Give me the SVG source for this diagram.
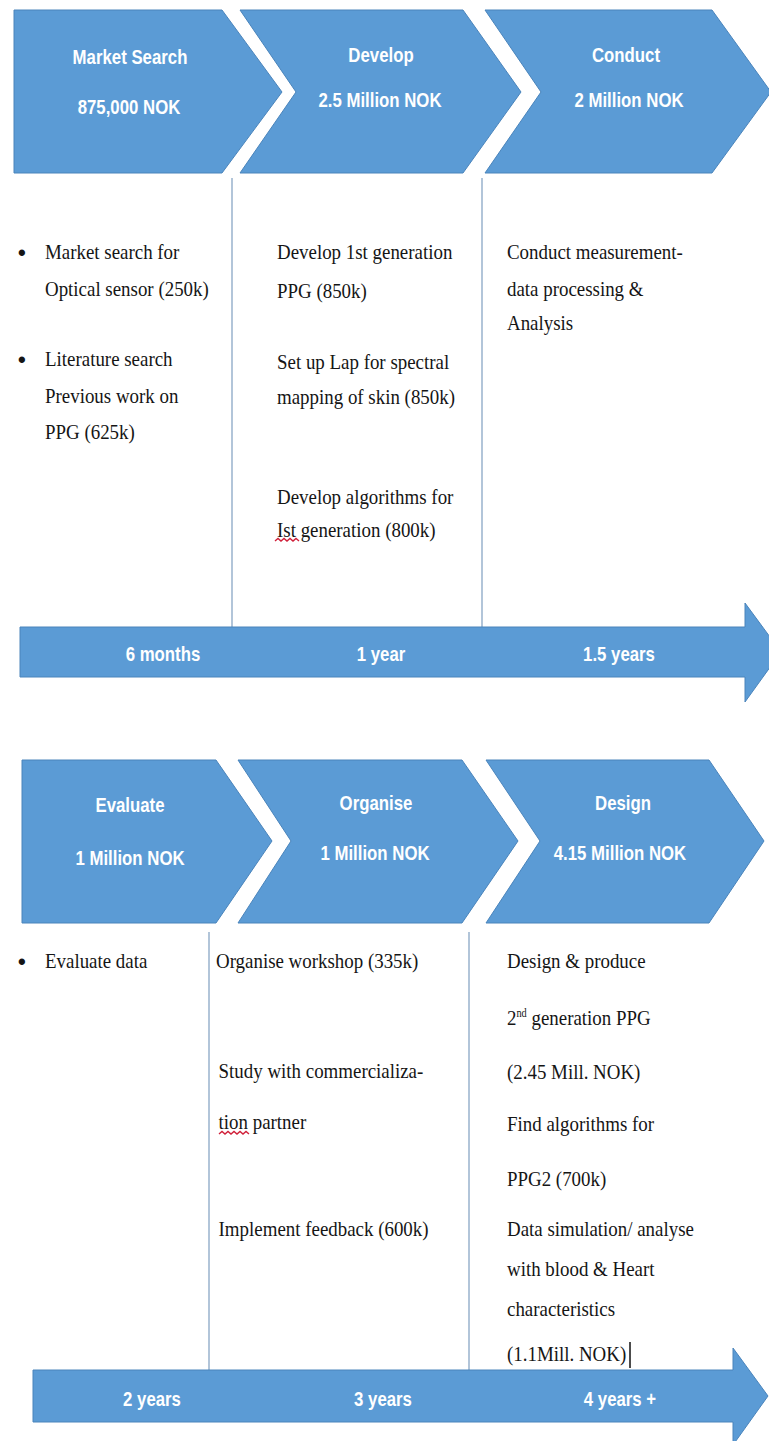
<svg xmlns="http://www.w3.org/2000/svg" width="769" height="1441" viewBox="0 0 769 1441">
<style>
.shape{fill:#5b9bd5;stroke:#4a84bb;stroke-width:1}
.hd{font-family:"Liberation Sans",Arial,sans-serif;font-weight:bold;font-size:20px;fill:#ffffff;text-anchor:middle}
.tx{font-family:"Liberation Serif","Times New Roman",serif;font-size:22px;fill:#151515}
.bul{font-family:"Liberation Sans",Arial,sans-serif;font-size:22px;font-weight:bold;fill:#151515}
.vl{stroke:#9fb7d0;stroke-width:1.6;fill:none}
.sq{stroke:#d0203a;stroke-width:1.4;fill:none}
</style>
<rect width="769" height="1441" fill="#ffffff"/>

<g id="connectors">
<line class="vl" x1="232" y1="178" x2="232" y2="627"/>
<line class="vl" x1="482" y1="178" x2="482" y2="627"/>
<line class="vl" x1="209" y1="932" x2="209" y2="1370"/>
<line class="vl" x1="469" y1="932" x2="469" y2="1370"/>
</g>

<g id="chevron-market">
<path class="shape" d="M14,10 L222,10 L282,92 L222,173 L14,173 Z"/>
<text class="hd" transform="translate(130,64) scale(0.84,1)">Market Search</text>
<text class="hd" transform="translate(129,114) scale(0.84,1)">875,000 NOK</text>
</g>
<g id="chevron-develop">
<path class="shape" d="M240,10 L463,10 L521,92 L463,173 L240,173 L296,92 Z"/>
<text class="hd" transform="translate(381,62) scale(0.84,1)">Develop</text>
<text class="hd" transform="translate(380,107) scale(0.84,1)">2.5 Million NOK</text>
</g>
<g id="chevron-conduct">
<path class="shape" d="M485,10 L712,10 L771,92 L712,173 L485,173 L541,92 Z"/>
<text class="hd" transform="translate(626,62) scale(0.84,1)">Conduct</text>
<text class="hd" transform="translate(629,107) scale(0.84,1)">2 Million NOK</text>
</g>

<g id="col-market">
<text class="bul" x="18" y="260">•</text>
<text class="bul" x="18" y="367">•</text>
<g transform="translate(45,0) scale(0.86,1)">
<text class="tx" y="259">Market search for</text>
<text class="tx" y="296">Optical sensor (250k)</text>
<text class="tx" y="366">Literature search</text>
<text class="tx" y="403">Previous work on</text>
<text class="tx" y="439">PPG (625k)</text>
</g>
</g>
<g id="col-develop">
<g transform="translate(277,0) scale(0.86,1)">
<text class="tx" y="259">Develop 1st generation</text>
<text class="tx" y="298">PPG (850k)</text>
<text class="tx" y="369">Set up Lap for spectral</text>
<text class="tx" y="404">mapping of skin (850k)</text>
<text class="tx" y="504">Develop algorithms for</text>
<text class="tx" y="537">Ist generation (800k)</text>
</g>
<path class="sq" d="M275,541 l3,-2.5 l3,2.5 l3,-2.5 l3,2.5 l3,-2.5 l3,2.5 l3,-2.5 l3,2.5"/>
</g>
<g id="col-conduct">
<g transform="translate(507,0) scale(0.86,1)">
<text class="tx" y="259">Conduct measurement-</text>
<text class="tx" y="296">data processing &amp;</text>
<text class="tx" y="330">Analysis</text>
</g>
</g>

<g id="timeline-1">
<path class="shape" d="M20,627 L745,627 L745,603 L781,652 L745,702 L745,677 L20,677 Z"/>
<text class="hd" transform="translate(163,661) scale(0.84,1)">6 months</text>
<text class="hd" transform="translate(381,661) scale(0.84,1)">1 year</text>
<text class="hd" transform="translate(619,661) scale(0.84,1)">1.5 years</text>
</g>

<g id="chevron-evaluate">
<path class="shape" d="M22,760 L216,760 L272,841 L216,923 L22,923 Z"/>
<text class="hd" transform="translate(130,812) scale(0.84,1)">Evaluate</text>
<text class="hd" transform="translate(130,865) scale(0.84,1)">1 Million NOK</text>
</g>
<g id="chevron-organise">
<path class="shape" d="M238,760 L462,760 L518,841 L462,923 L238,923 L291,841 Z"/>
<text class="hd" transform="translate(376,810) scale(0.84,1)">Organise</text>
<text class="hd" transform="translate(375,860) scale(0.84,1)">1 Million NOK</text>
</g>
<g id="chevron-design">
<path class="shape" d="M486,760 L709,760 L764,841 L709,923 L486,923 L540,841 Z"/>
<text class="hd" transform="translate(623,810) scale(0.84,1)">Design</text>
<text class="hd" transform="translate(620,860) scale(0.84,1)">4.15 Million NOK</text>
</g>

<g id="col-evaluate">
<text class="bul" x="18" y="969">•</text>
<g transform="translate(45,0) scale(0.86,1)">
<text class="tx" y="968">Evaluate data</text>
</g>
</g>
<g id="col-organise">
<g transform="translate(216,0) scale(0.86,1)">
<text class="tx" y="968">Organise workshop (335k)</text>
<text class="tx" x="3" y="1078">Study with commercializa-</text>
<text class="tx" x="3" y="1129">tion partner</text>
<text class="tx" x="3" y="1236">Implement feedback (600k)</text>
</g>
<path class="sq" d="M219,1134 l3,-2.5 l3,2.5 l3,-2.5 l3,2.5 l3,-2.5 l3,2.5 l3,-2.5 l3,2.5 l3,-2.5 l3,2.5"/>
</g>
<g id="col-design">
<g transform="translate(507,0) scale(0.86,1)">
<text class="tx" y="968">Design &amp; produce</text>
<text class="tx" y="1025">2<tspan font-size="12" dy="-8">nd</tspan><tspan dy="8"> generation PPG</tspan></text>
<text class="tx" y="1079">(2.45 Mill. NOK)</text>
<text class="tx" y="1131">Find algorithms for</text>
<text class="tx" y="1186">PPG2 (700k)</text>
<text class="tx" y="1236">Data simulation/ analyse</text>
<text class="tx" y="1276">with blood &amp; Heart</text>
<text class="tx" y="1316">characteristics</text>
<text class="tx" y="1361">(1.1Mill. NOK)</text>
</g>
<line x1="630" y1="1342" x2="630" y2="1368" stroke="#111" stroke-width="1.5"/>
</g>

<g id="timeline-2">
<path class="shape" d="M33,1370 L733,1370 L733,1348 L768,1396 L733,1445 L733,1422 L33,1422 Z"/>
<text class="hd" transform="translate(152,1406) scale(0.84,1)">2 years</text>
<text class="hd" transform="translate(383,1406) scale(0.84,1)">3 years</text>
<text class="hd" transform="translate(620,1406) scale(0.84,1)">4 years +</text>
</g>
</svg>
